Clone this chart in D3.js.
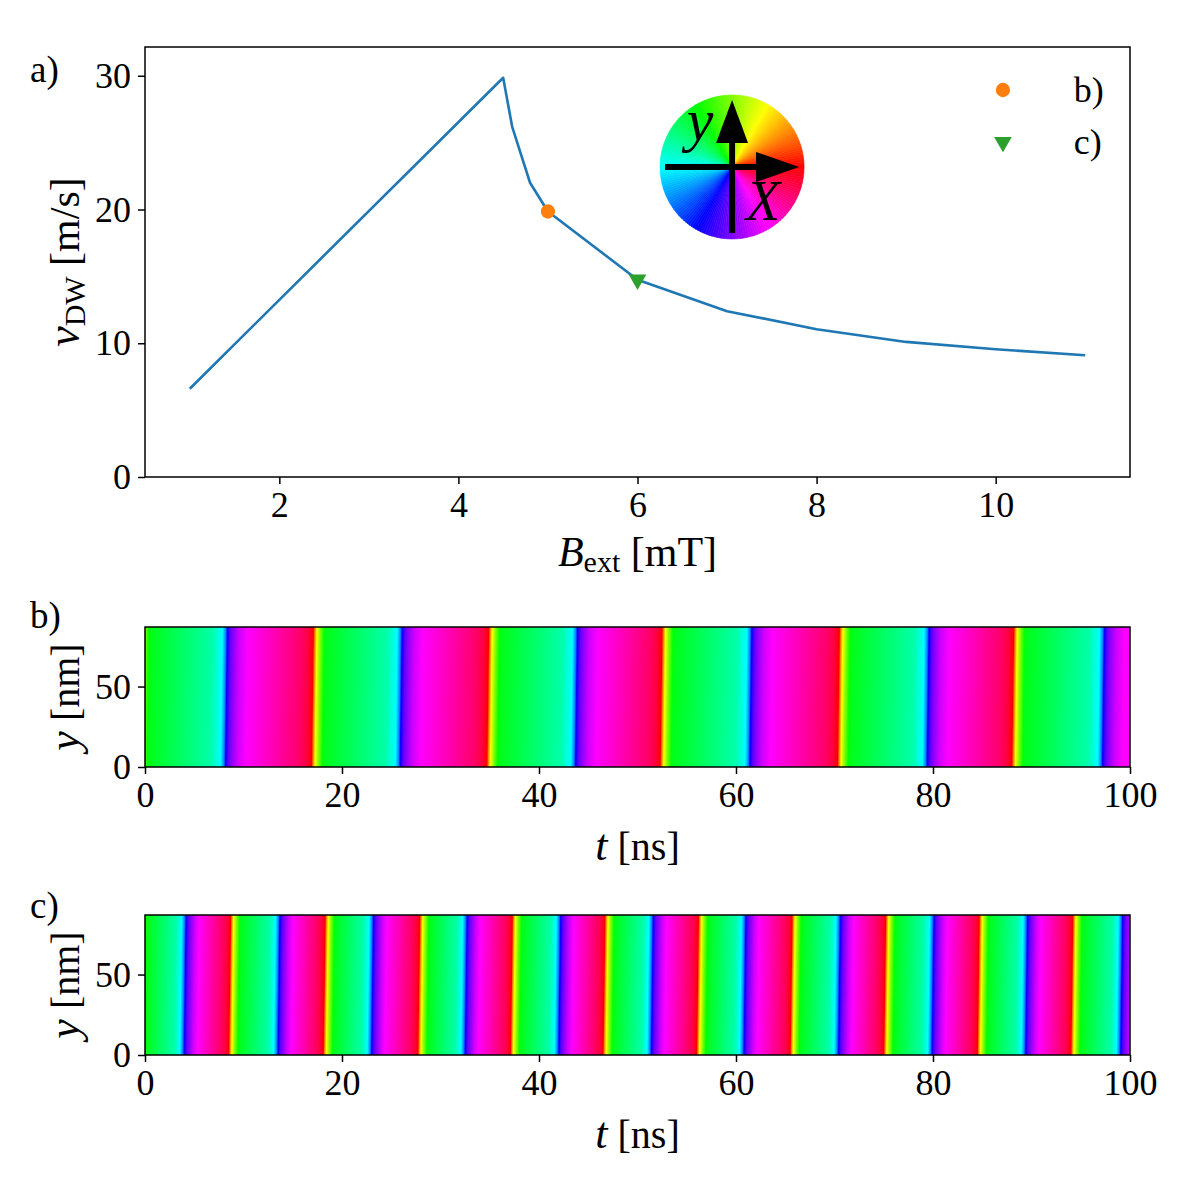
<!DOCTYPE html>
<html><head><meta charset="utf-8">
<script src="https://cdn.jsdelivr.net/npm/d3@7"></script>
<style>body{margin:0;background:#fff}</style></head>
<body>
<svg id="fig" width="1200" height="1200"></svg>
<script>
// ---------- DATA ----------
const fieldB   = [1, 4.5, 4.6, 4.8, 5, 6, 7, 8, 9, 10, 11];
const velocity = [6.6, 29.85, 26.2, 22.0, 19.85, 14.75, 12.4, 11.05, 10.1, 9.55, 9.1];
const markerFields = [5, 6];
const markerVelocities = [19.85, 14.75];
const markerLabels = ["b)", "c)"];
const xTicksA = [2, 4, 6, 8, 10];
const yTicksA = [0, 10, 20, 30];
const tTicks = [0, 20, 40, 60, 80, 100];
const yTicksNm = [0, 50];

// stripe panels: times (ns) of the blue (cyan->magenta) and red (pink->green) transitions
const bBlueTimes = [8.26, 26.0, 43.8, 61.5, 79.5, 97.3];
const bRedTimes  = [-0.8, 17.0, 34.8, 52.4, 70.4, 88.1];
const cBlueTimes = [4.07, 13.6, 23.1, 32.6, 42.1, 51.5, 60.9, 70.5, 80.0, 89.5, 99.15];
const cRedTimes  = [-0.85, 8.6, 18.2, 27.8, 37.2, 46.6, 56.1, 65.6, 75.1, 84.6, 94.1];
// hue profile around each transition (degrees) and offsets (ns) for each panel
const blueEdgeHues = [160, 180, 210, 240, 262, 272, 288, 300];
const redEdgeHues  = [335, 345, 0, 30, 60, 90, 125];
const bBlueOffsets = [-1.5, -0.5, -0.15, 0, 0.3, 0.6, 1.2, 2.1];
const bRedOffsets  = [-1.3, -0.5, 0, 0.15, 0.35, 0.7, 1.2];
const cBlueOffsets = [-1.0, -0.45, -0.15, 0, 0.25, 0.5, 0.9, 1.35];
const cRedOffsets  = [-0.9, -0.35, 0, 0.12, 0.3, 0.6, 1.0];
const tDomain = [0, 100];
const yNmDomain = [0, 87];

// ---------- LAYOUT ----------
const svg = d3.select("#fig");
svg.append("rect").attr("width",1200).attr("height",1200).attr("fill","#fff");
const FONT = "'Liberation Serif','DejaVu Serif',serif";
const L = 145, R = 1130;
const panA = {top:47, bottom:477};
const panB = {top:627, bottom:767};
const panC = {top:915, bottom:1055};

function styleAxis(g){
  g.select(".domain").remove();
  g.selectAll(".tick line").attr("stroke","#000").attr("stroke-width",1.5);
  g.selectAll(".tick text").attr("font-family",FONT).attr("font-size",36).attr("fill","#000");
}
function frame(p){
  svg.append("rect").attr("x",L).attr("y",p.top).attr("width",R-L).attr("height",p.bottom-p.top)
    .attr("fill","none").attr("stroke","#000").attr("stroke-width",1.5);
}

// ---------- PANEL A ----------
const xA = d3.scaleLinear().domain([0.5, 11.5]).range([L, R]);
const yA = d3.scaleLinear().domain([0, 32.15]).range([panA.bottom, panA.top]);

svg.append("g").attr("transform",`translate(0,${panA.bottom})`)
  .call(d3.axisBottom(xA).tickValues(xTicksA).tickSize(7).tickPadding(7)).call(styleAxis);
svg.append("g").attr("transform",`translate(${L},0)`)
  .call(d3.axisLeft(yA).tickValues(yTicksA).tickSize(7).tickPadding(7)).call(styleAxis);

const line = d3.line().x((d,i)=>xA(fieldB[i])).y((d,i)=>yA(velocity[i]));
svg.append("path").datum(velocity).attr("d",line).attr("fill","none")
  .attr("stroke","#1f77b4").attr("stroke-width",2.6).attr("stroke-linejoin","round");

// markers
const circ = d3.symbol().type(d3.symbolCircle).size(160);
const tri = d3.symbol().type(d3.symbolTriangle).size(135);
svg.append("path").attr("d",circ()).attr("fill","#ff7f0e")
  .attr("transform",`translate(${xA(markerFields[0])},${yA(markerVelocities[0])})`);
svg.append("path").attr("d",tri()).attr("fill","#2ca02c")
  .attr("transform",`translate(${xA(markerFields[1])},${yA(markerVelocities[1])}) rotate(180)`);

// legend
const legX = L + (R-L)*0.871, legTextX = L + (R-L)*0.943;
[0,1].forEach(i=>{
  const ly = panA.top + 43 + i*52;
  if(i===0) svg.append("path").attr("d",circ()).attr("fill","#ff7f0e").attr("transform",`translate(${legX},${ly})`);
  else svg.append("path").attr("d",tri()).attr("fill","#2ca02c").attr("transform",`translate(${legX},${ly}) rotate(180)`);
  svg.append("text").attr("x",legTextX).attr("y",ly+12).attr("font-family",FONT).attr("font-size",36)
    .text(markerLabels[i]);
});

// colour wheel inset
const wcx = L + (R-L)*0.596, wcy = panA.top + (panA.bottom-panA.top)*0.279, wr = 72;
const wheel = svg.append("g").attr("transform",`translate(${wcx},${wcy})`);
const nW = 180;
const arc = d3.arc().innerRadius(0).outerRadius(wr);
d3.range(nW).forEach(k=>{
  const a0 = k/nW*2*Math.PI, a1 = (k+1)/nW*2*Math.PI;
  const mid = (k+0.5)/nW*360;
  const hue = ((90 - mid)%360+360)%360;
  const col = d3.hsl(hue,1,0.5).formatHex();
  wheel.append("path").attr("d",arc({startAngle:a0,endAngle:a1})).attr("fill",col)
    .attr("stroke",col).attr("stroke-width",0.6);
});
// arrows
wheel.append("rect").attr("x",-67).attr("y",-3).attr("width",95).attr("height",6).attr("fill","#000");
wheel.append("path").attr("d","M24,-15 L67,0 L24,15 Z").attr("fill","#000");
wheel.append("rect").attr("x",-3).attr("y",-28).attr("width",6).attr("height",94).attr("fill","#000");
wheel.append("path").attr("d","M-16,-24 L0,-67 L16,-24 Z").attr("fill","#000");
wheel.append("text").attr("x",-32).attr("y",-27).attr("text-anchor","middle").attr("font-family",FONT)
  .attr("font-style","italic").attr("font-size",60).text("y");
wheel.append("text").attr("x",31).attr("y",53).attr("text-anchor","middle").attr("font-family",FONT)
  .attr("font-style","italic").attr("font-size",56).text("X");

// axis labels panel A
const xlabA = svg.append("text").attr("x",(L+R)/2).attr("y",566).attr("text-anchor","middle")
  .attr("font-family",FONT).attr("font-size",42);
xlabA.append("tspan").attr("font-style","italic").text("B");
xlabA.append("tspan").attr("font-size",30).attr("dy",6).text("ext");
xlabA.append("tspan").attr("dy",-6).text(" [mT]");

const ylabA = svg.append("text").attr("transform",`translate(79,${(panA.top+panA.bottom)/2}) rotate(-90)`)
  .attr("text-anchor","middle").attr("font-family",FONT).attr("font-size",42);
ylabA.append("tspan").attr("font-style","italic").attr("font-size",46).text("v");
ylabA.append("tspan").attr("font-size",30).attr("dy",6).text("DW");
ylabA.append("tspan").attr("dy",-6).text(" [m/s]");

// ---------- STRIPE PANELS ----------
const xT = d3.scaleLinear().domain(tDomain).range([L, R]);

function buildStops(blueT, redT, blueOff, redOff){
  const ev = [];
  blueT.forEach(T=>blueOff.forEach((o,i)=>ev.push({t:T+o,h:blueEdgeHues[i]})));
  redT.forEach(T=>redOff.forEach((o,i)=>ev.push({t:T+o,h:redEdgeHues[i]})));
  ev.sort((a,b)=>a.t-b.t);
  let prev = null;
  ev.forEach(e=>{ if(prev===null) e.u=e.h; else e.u = prev + (((e.h-prev)%360)+360)%360; prev=e.u; });
  const out = [];
  ev.forEach((e,i)=>{
    if(i>0){
      const a = ev[i-1];
      const n = Math.max(1, Math.ceil((e.u-a.u)/8));
      for(let k=1;k<n;k++) out.push({t:a.t+(e.t-a.t)*k/n, u:a.u+(e.u-a.u)*k/n});
    }
    out.push(e);
  });
  return out;
}

const defs = svg.append("defs");
function stripePanel(p, id, blueT, redT, blueOff, redOff){
  const y = d3.scaleLinear().domain(yNmDomain).range([p.bottom, p.top]);
  const stops = buildStops(blueT, redT, blueOff, redOff);
  const x1 = xT(stops[0].t), x2 = xT(stops[stops.length-1].t);
  const cy = (p.top+p.bottom)/2;
  const grad = defs.append("linearGradient").attr("id",id).attr("gradientUnits","userSpaceOnUse")
    .attr("x1",x1).attr("x2",x2).attr("y1",0).attr("y2",0)
    .attr("gradientTransform",`translate(0,${cy}) skewX(-0.8) translate(0,${-cy})`);
  stops.forEach(s=>{
    grad.append("stop").attr("offset",(xT(s.t)-x1)/(x2-x1))
      .attr("stop-color",d3.hsl(((s.u%360)+360)%360,1,0.5).formatHex());
  });
  defs.append("clipPath").attr("id",id+"clip").append("rect")
    .attr("x",L).attr("y",p.top).attr("width",R-L).attr("height",p.bottom-p.top);
  svg.append("rect").attr("clip-path",`url(#${id}clip)`)
    .attr("x",xT(tDomain[0])).attr("y",y(yNmDomain[1])).attr("width",xT(tDomain[1])-xT(tDomain[0]))
    .attr("height",y(yNmDomain[0])-y(yNmDomain[1])).attr("fill",`url(#${id})`);
  frame(p);
  svg.append("g").attr("transform",`translate(0,${p.bottom})`)
    .call(d3.axisBottom(xT).tickValues(tTicks).tickSize(7).tickPadding(7)).call(styleAxis);
  svg.append("g").attr("transform",`translate(${L},0)`)
    .call(d3.axisLeft(y).tickValues(yTicksNm).tickSize(7).tickPadding(7)).call(styleAxis);
  const xl = svg.append("text").attr("x",(L+R)/2).attr("y",p.bottom+93).attr("text-anchor","middle")
    .attr("font-family",FONT).attr("font-size",40);
  xl.append("tspan").attr("font-style","italic").attr("font-size",44).text("t");
  xl.append("tspan").text(" [ns]");
  const yl = svg.append("text").attr("transform",`translate(79,${(p.top+p.bottom)/2}) rotate(-90)`)
    .attr("text-anchor","middle").attr("font-family",FONT).attr("font-size",40);
  yl.append("tspan").attr("font-style","italic").attr("font-size",44).text("y");
  yl.append("tspan").text(" [nm]");
}
frame(panA);
stripePanel(panB, "gb", bBlueTimes, bRedTimes, bBlueOffsets, bRedOffsets);
stripePanel(panC, "gc", cBlueTimes, cRedTimes, cBlueOffsets, cRedOffsets);

// panel letters
[["a)",82],["b)",628],["c)",918]].forEach(([t,yb])=>{
  svg.append("text").attr("x",30).attr("y",yb).attr("font-family",FONT).attr("font-size",37).text(t);
});
</script>
</body></html>
